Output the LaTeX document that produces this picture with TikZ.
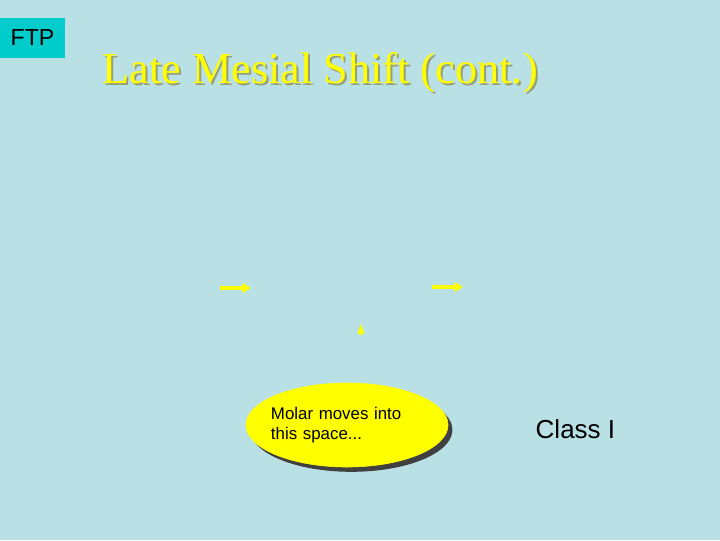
\documentclass[tikz,border=0pt]{standalone}
\usepackage{fontspec}
\setmainfont{Liberation Serif}
\setsansfont{Liberation Sans}
\usepackage{tikz}
\usetikzlibrary{positioning}
\usetikzlibrary{shapes}
\usetikzlibrary{shadows}
\usetikzlibrary{arrows.meta}

\definecolor{slidebg}{RGB}{185,224,228}
\definecolor{tagcyan}{RGB}{0,204,204}
\definecolor{hiyellow}{RGB}{255,255,0}
\definecolor{titleshade}{RGB}{150,160,120}

\begin{document}
\begin{tikzpicture}[x=0.025cm, y=-0.025cm, thick, outer sep=0]
        % slide background
        \fill[slidebg] (0,0) rectangle (720,540);
        \useasboundingbox (0,0) rectangle (720,540);
        % tag and title
        \node [fill=tagcyan, rectangle, minimum height=1cm, minimum width=1.625cm, anchor=north west, inner sep=0, font=\sffamily\fontsize{16.5}{18}\selectfont] (tag) at (0,18) {FTP};
        \node [anchor=base, text=titleshade, font=\fontsize{31.5}{34}\selectfont] (shade) at (322,85) {Late Mesial Shift (cont.)};
        \node [anchor=base, text=hiyellow, font=\fontsize{31.5}{34}\selectfont] (title) at (320,83) {Late Mesial Shift (cont.)};
        % arrows
        \coordinate (a1) at (220,288);
        \coordinate (a2) at (251,288);
        \coordinate (b1) at (432,287);
        \coordinate (b2) at (463,287);
        \coordinate (c1) at (361,336);
        \coordinate (c2) at (361,324);
        \draw[hiyellow, line width=2.2pt, -{Triangle[length=6pt, width=7pt]}] (a1) -- (a2);
        \draw[hiyellow, line width=2.2pt, -{Triangle[length=6pt, width=7pt]}] (b1) -- (b2);
        \draw[hiyellow, line width=0.5pt, -{Triangle[length=7pt, width=5pt]}] (c1) -- (c2);
        % callout
        \node [draw=hiyellow, thin, fill=hiyellow, ellipse, inner ysep=0, inner xsep=-0.5cm, minimum width=5.05cm, minimum height=2.1cm, text width=3.8cm, align=left, drop shadow={shadow xshift=0.11cm, shadow yshift=-0.12cm, fill=black!75, opacity=1}, font=\sffamily\fontsize{12}{14.2}\selectfont] (note) at (347,425) {Molar moves into\\this space...};
        \node [anchor=base west, font=\sffamily\fontsize{18.5}{22}\selectfont] (cls) at (531,438) {Class I};
    \end{tikzpicture}
\end{document}
